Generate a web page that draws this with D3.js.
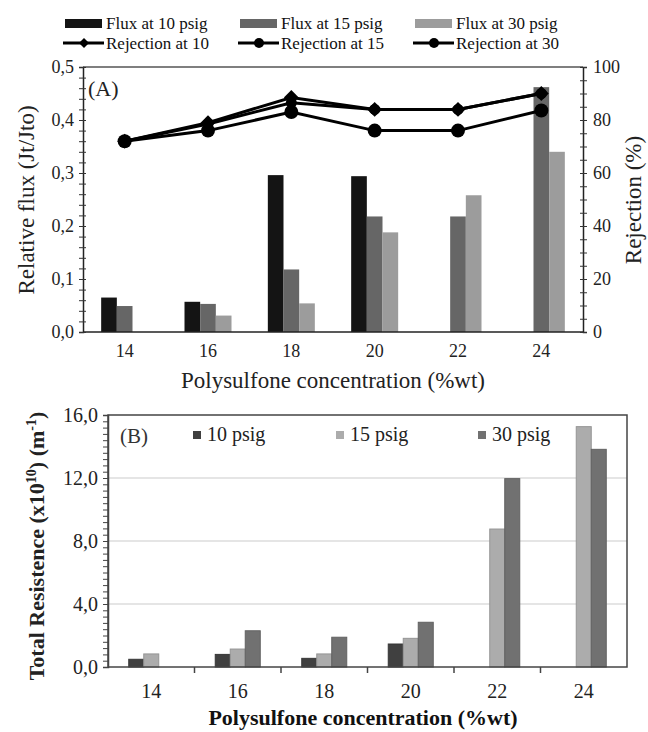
<!DOCTYPE html>
<html>
<head>
<meta charset="utf-8">
<script src="https://cdn.jsdelivr.net/npm/d3@7"></script>
<style>
  body { margin: 0; background: #fff; }
  svg, svg text { font-family: "Liberation Serif", "Times New Roman", Times, serif !important; }
</style>
</head>
<body>
<script>
// polysulfone concentration (%wt)
var conc = [ '14', '16', '18', '20', '22', '24' ];

// panel A : relative flux (Jt/Jto)
var flux10 = [ 0.065, 0.057, 0.296, 0.294, 0, 0 ];
var flux15 = [ 0.049, 0.053, 0.118, 0.218, 0.218, 0.462 ];
var flux30 = [ 0, 0.031, 0.054, 0.188, 0.258, 0.340 ];

// panel A : rejection (%)
var rej10 = [ 72, 79, 88.5, 84, 84, 90 ];
var rej15 = [ 72, 78.5, 86.5, 84, 84, 90 ];
var rej30 = [ 72, 76, 83, 76, 76, 83.6 ];

// panel B : total resistance (x10^10 m-1)
var res10 = [ 0.49, 0.80, 0.55, 1.46, 0, 0 ];
var res15 = [ 0.83, 1.14, 0.83, 1.82, 8.76, 15.26 ];
var res30 = [ 0, 2.30, 1.89, 2.84, 11.96, 13.82 ];

var fluxTicks = [ 0, 0.1, 0.2, 0.3, 0.4, 0.5 ];
var rejTicks = [ 0, 20, 40, 60, 80, 100 ];
var resTicks = [ 0, 4, 8, 12, 16 ];

var serif = '"Liberation Serif", "Times New Roman", Times, serif';

var comma = function ( d ) {
  return d3.format( '.1f' )( d ).replace( '.', ',' );
};

var svg = d3.select( 'body' ).append( 'svg' )
  .attr( 'width', 648 )
  .attr( 'height', 732 )
  .style( 'font-family', serif );

// ---------------- panel A ----------------
var xA = d3.scaleBand().domain( conc ).range( [ 83, 583 ] );
var subA = d3.scaleBand().domain( [ 0, 1, 2 ] ).range( [ -23.5, 23.5 ] );
var yA = d3.scaleLinear().domain( [ 0, 0.5 ] ).range( [ 332, 67 ] );
var yR = d3.scaleLinear().domain( [ 0, 100 ] ).range( [ 332, 67 ] );

var fluxSeries = [
  { vals: flux10, color: '#141414' },
  { vals: flux15, color: '#666666' },
  { vals: flux30, color: '#9c9c9c' }
];

fluxSeries.forEach( function ( s, k ) {
  svg.append( 'g' ).selectAll( 'rect' )
    .data( s.vals )
    .enter().append( 'rect' )
    .attr( 'x', function ( d, i ) {
      return xA( conc[ i ] ) + xA.bandwidth() / 2 + subA( k );
    } )
    .attr( 'y', function ( d ) {
      return yA( d );
    } )
    .attr( 'width', subA.bandwidth() )
    .attr( 'height', function ( d ) {
      return yA( 0 ) - yA( d );
    } )
    .attr( 'fill', s.color );
} );

// frame A
svg.append( 'line' ).attr( 'x1', 83 ).attr( 'x2', 583 ).attr( 'y1', 67 ).attr( 'y2', 67 )
  .attr( 'stroke', '#555' ).attr( 'stroke-width', 1.5 );
svg.append( 'line' ).attr( 'x1', 83 ).attr( 'x2', 583 ).attr( 'y1', 332 ).attr( 'y2', 332 )
  .attr( 'stroke', '#222' ).attr( 'stroke-width', 1.5 );

var axL = svg.append( 'g' ).attr( 'transform', 'translate(83,0)' )
  .call( d3.axisLeft( yA ).tickValues( d3.range( 0, 0.501, 0.02 ) ).tickSize( 4 ).tickFormat( '' ) );
axL.selectAll( '.tick line' ).attr( 'x2', -4 ).attr( 'x1', 3 );
svg.append( 'g' ).attr( 'transform', 'translate(83,0)' )
  .call( d3.axisLeft( yA ).tickValues( fluxTicks ).tickSize( 0 ).tickPadding( 9 ).tickFormat( comma ) )
  .call( function ( g ) { g.select( '.domain' ).remove(); } );

var axR = svg.append( 'g' ).attr( 'transform', 'translate(583,0)' )
  .call( d3.axisRight( yR ).tickValues( d3.range( 0, 101, 5 ) ).tickSize( 4 ).tickFormat( '' ) );
axR.selectAll( '.tick line' ).attr( 'x1', -3 ).attr( 'x2', 4 );
svg.append( 'g' ).attr( 'transform', 'translate(583,0)' )
  .call( d3.axisRight( yR ).tickValues( rejTicks ).tickSize( 0 ).tickPadding( 10 ) )
  .call( function ( g ) { g.select( '.domain' ).remove(); } );

svg.append( 'g' ).attr( 'transform', 'translate(0,332)' )
  .call( d3.axisBottom( xA ).tickSize( 0 ).tickPadding( 12 ) )
  .call( function ( g ) { g.select( '.domain' ).remove(); } );

svg.selectAll( '.domain' ).attr( 'stroke', '#222' ).attr( 'stroke-width', 1.5 );
svg.selectAll( '.tick line' ).attr( 'stroke', '#333' );
svg.selectAll( '.tick text' )
  .attr( 'font-size', 18 )
  .attr( 'fill', '#222' );

// rejection lines
var rejSeries = [
  { vals: rej30, shape: 'circle', r: 7 },
  { vals: rej15, shape: 'circle', r: 5.5 },
  { vals: rej10, shape: 'diamond', r: 7 }
];

var lineA = d3.line()
  .x( function ( d, i ) { return xA( conc[ i ] ) + xA.bandwidth() / 2; } )
  .y( function ( d ) { return yR( d ); } );

rejSeries.forEach( function ( s ) {
  svg.append( 'path' )
    .datum( s.vals )
    .attr( 'd', lineA )
    .attr( 'fill', 'none' )
    .attr( 'stroke', '#000' )
    .attr( 'stroke-width', 3 );
} );

rejSeries.forEach( function ( s ) {
  var g = svg.append( 'g' );
  if ( s.shape === 'circle' ) {
    g.selectAll( 'circle' )
      .data( s.vals )
      .enter().append( 'circle' )
      .attr( 'cx', function ( d, i ) { return xA( conc[ i ] ) + xA.bandwidth() / 2; } )
      .attr( 'cy', function ( d ) { return yR( d ); } )
      .attr( 'r', s.r )
      .attr( 'fill', '#000' );
  } else {
    g.selectAll( 'path' )
      .data( s.vals )
      .enter().append( 'path' )
      .attr( 'd', d3.symbol().type( d3.symbolSquare ).size( 110 ) )
      .attr( 'transform', function ( d, i ) {
        return 'translate(' + ( xA( conc[ i ] ) + xA.bandwidth() / 2 ) + ',' + yR( d ) + ') rotate(45)';
      } )
      .attr( 'fill', '#000' );
  }
} );

svg.append( 'text' ).attr( 'x', 88 ).attr( 'y', 96 )
  .attr( 'font-size', 22 ).attr( 'fill', '#222' ).text( '(A)' );

svg.append( 'text' )
  .attr( 'transform', 'translate(34,200) rotate(-90)' )
  .attr( 'text-anchor', 'middle' )
  .attr( 'font-size', 23 ).attr( 'fill', '#222' )
  .text( 'Relative  flux (Jt/Jto)' );

svg.append( 'text' )
  .attr( 'transform', 'translate(641,200) rotate(-90)' )
  .attr( 'text-anchor', 'middle' )
  .attr( 'font-size', 23 ).attr( 'fill', '#222' )
  .text( 'Rejection (%)' );

svg.append( 'text' ).attr( 'x', 333 ).attr( 'y', 388 )
  .attr( 'text-anchor', 'middle' )
  .attr( 'font-size', 23 ).attr( 'fill', '#222' )
  .text( 'Polysulfone concentration (%wt)' );

// legend A
var legFlux = [ 'Flux at 10 psig', 'Flux at 15 psig', 'Flux at 30 psig' ];
var legRej = [ 'Rejection at 10', 'Rejection at 15', 'Rejection at 30' ];
var legX = [ 65, 240, 415 ];

legFlux.forEach( function ( t, k ) {
  svg.append( 'rect' ).attr( 'x', legX[ k ] ).attr( 'y', 19 )
    .attr( 'width', 37 ).attr( 'height', 9 ).attr( 'fill', fluxSeries[ k ].color );
  svg.append( 'text' ).attr( 'x', legX[ k ] + 41 ).attr( 'y', 29 )
    .attr( 'font-size', 17 ).attr( 'fill', '#111' ).text( t );
} );

legRej.forEach( function ( t, k ) {
  var cx = legX[ k ] + 19;
  svg.append( 'line' ).attr( 'x1', legX[ k ] - 2 ).attr( 'x2', legX[ k ] + 39 )
    .attr( 'y1', 43 ).attr( 'y2', 43 ).attr( 'stroke', '#000' ).attr( 'stroke-width', 3 );
  if ( k === 0 ) {
    svg.append( 'path' ).attr( 'd', d3.symbol().type( d3.symbolSquare ).size( 50 ) )
      .attr( 'transform', 'translate(' + cx + ',43) rotate(45)' ).attr( 'fill', '#000' );
  } else {
    svg.append( 'circle' ).attr( 'cx', cx ).attr( 'cy', 43 ).attr( 'r', 5 ).attr( 'fill', '#000' );
  }
  svg.append( 'text' ).attr( 'x', legX[ k ] + 41 ).attr( 'y', 49 )
    .attr( 'font-size', 17 ).attr( 'fill', '#111' ).text( t );
} );

// ---------------- panel B ----------------
var xB = d3.scaleBand().domain( conc ).range( [ 108, 627 ] );
var subB = d3.scaleBand().domain( [ 0, 1, 2 ] ).range( [ -22.5, 22.5 ] );
var yB = d3.scaleLinear().domain( [ 0, 16 ] ).range( [ 667, 415 ] );

svg.append( 'g' ).selectAll( 'line' )
  .data( [ 4, 8, 12 ] )
  .enter().append( 'line' )
  .attr( 'x1', 108 ).attr( 'x2', 627 )
  .attr( 'y1', function ( d ) { return yB( d ); } )
  .attr( 'y2', function ( d ) { return yB( d ); } )
  .attr( 'stroke', '#dcdcdc' ).attr( 'stroke-width', 1.5 );

var resSeries = [
  { vals: res10, color: '#404040', name: '10 psig' },
  { vals: res15, color: '#acacac', name: '15 psig' },
  { vals: res30, color: '#717171', name: '30 psig' }
];

resSeries.forEach( function ( s, k ) {
  var rows = s.vals.map( function ( v, i ) {
    return { c: conc[ i ], v: v };
  } ).filter( function ( d ) { return d.v > 0; } );
  svg.append( 'g' ).selectAll( 'rect' )
    .data( rows )
    .enter().append( 'rect' )
    .attr( 'x', function ( d ) {
      return xB( d.c ) + xB.bandwidth() / 2 + subB( k );
    } )
    .attr( 'y', function ( d ) { return yB( d.v ); } )
    .attr( 'width', subB.bandwidth() )
    .attr( 'height', function ( d ) { return yB( 0 ) - yB( d.v ); } )
    .attr( 'fill', s.color )
    .attr( 'stroke', d3.color( s.color ).darker( 0.4 ) )
    .attr( 'stroke-width', 1 );
} );

svg.append( 'rect' ).attr( 'x', 108 ).attr( 'y', 415 )
  .attr( 'width', 519 ).attr( 'height', 252 )
  .attr( 'fill', 'none' ).attr( 'stroke', '#444' ).attr( 'stroke-width', 1.5 );

var axBL = svg.append( 'g' ).attr( 'transform', 'translate(108,0)' )
  .call( d3.axisLeft( yB ).tickValues( d3.range( 0, 16.01, 0.4 ) ).tickSize( 5 ).tickFormat( '' ) );
axBL.selectAll( '.tick line' ).attr( 'x1', 1 );
svg.append( 'g' ).attr( 'transform', 'translate(108,0)' )
  .call( d3.axisLeft( yB ).tickValues( resTicks ).tickSize( 0 ).tickPadding( 10 ).tickFormat( comma ) )
  .call( function ( g ) { g.select( '.domain' ).remove(); } )
  .selectAll( 'text' ).attr( 'font-size', 20 );

var axBB = svg.append( 'g' ).attr( 'transform', 'translate(0,667)' )
  .call( d3.axisBottom( xB ).tickSize( 0 ).tickPadding( 17 ) );
axBB.select( '.domain' ).remove();
axBB.selectAll( 'text' ).attr( 'font-size', 20 );

svg.append( 'g' ).selectAll( 'line' )
  .data( conc.slice( 1 ) )
  .enter().append( 'line' )
  .attr( 'x1', function ( d ) { return xB( d ); } )
  .attr( 'x2', function ( d ) { return xB( d ); } )
  .attr( 'y1', 667 ).attr( 'y2', 673 )
  .attr( 'stroke', '#444' ).attr( 'stroke-width', 1.5 );

axBL.select( '.domain' ).attr( 'stroke', '#444' ).attr( 'stroke-width', 1.5 );
svg.selectAll( '.tick text' ).attr( 'fill', '#222' );
axBL.selectAll( '.tick line' ).attr( 'stroke', '#444' );

svg.append( 'text' ).attr( 'x', 120 ).attr( 'y', 443 )
  .attr( 'font-size', 21 ).attr( 'fill', '#333' ).text( '(B)' );

var legBX = [ 193, 336, 478 ];
resSeries.forEach( function ( s, k ) {
  svg.append( 'rect' ).attr( 'x', legBX[ k ] ).attr( 'y', 431 )
    .attr( 'width', 8 ).attr( 'height', 8 ).attr( 'fill', s.color );
  svg.append( 'text' ).attr( 'x', legBX[ k ] + 14 ).attr( 'y', 441 )
    .attr( 'font-size', 20 ).attr( 'fill', '#222' ).text( s.name );
} );

var yTitle = svg.append( 'text' )
  .attr( 'transform', 'translate(44,546) rotate(-90)' )
  .attr( 'text-anchor', 'middle' )
  .attr( 'font-size', 22 ).attr( 'font-weight', 'bold' ).attr( 'fill', '#222' );
yTitle.append( 'tspan' ).text( 'Total  Resistence (x10' );
yTitle.append( 'tspan' ).attr( 'font-size', 14 ).attr( 'dy', -8 ).text( '10' );
yTitle.append( 'tspan' ).attr( 'dy', 8 ).text( ') (m' );
yTitle.append( 'tspan' ).attr( 'font-size', 14 ).attr( 'dy', -8 ).text( '-1' );
yTitle.append( 'tspan' ).attr( 'dy', 8 ).text( ')' );

svg.append( 'text' ).attr( 'x', 363 ).attr( 'y', 725 )
  .attr( 'text-anchor', 'middle' )
  .attr( 'font-size', 22 ).attr( 'font-weight', 'bold' ).attr( 'fill', '#111' )
  .text( 'Polysulfone concentration (%wt)' );

svg.selectAll( 'text' ).attr( 'font-family', serif );
</script>
</body>
</html>
